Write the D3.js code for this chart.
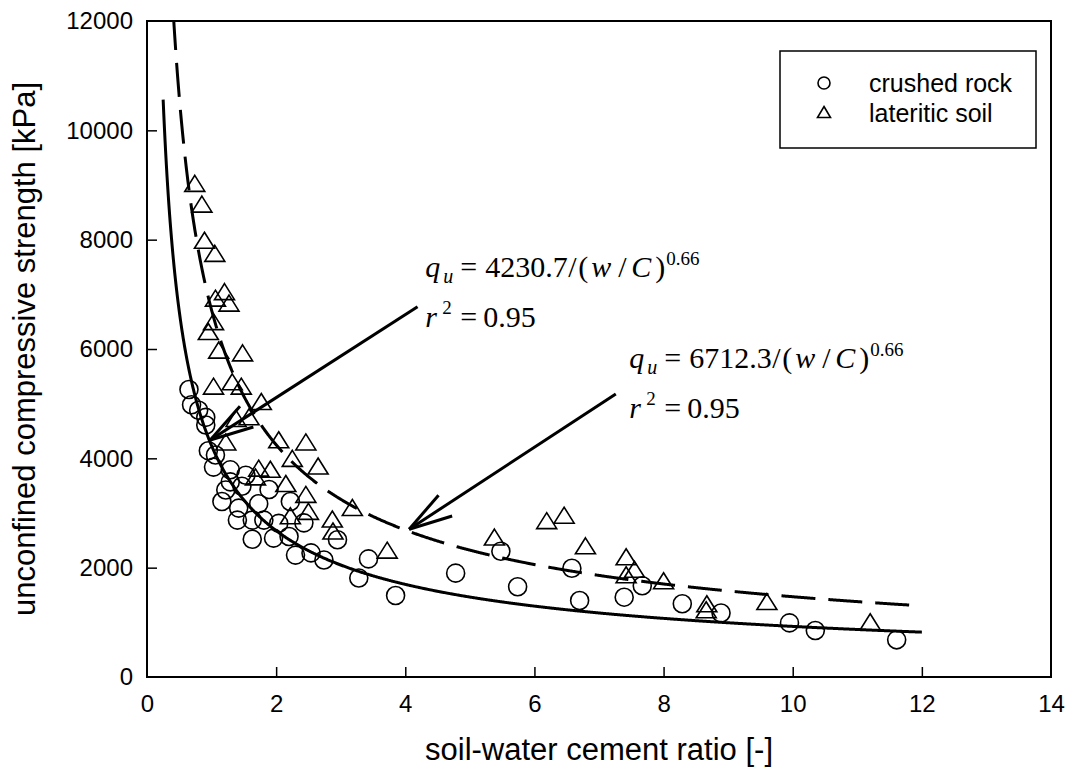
<!DOCTYPE html>
<html>
<head>
<meta charset="utf-8">
<script src="https://cdn.jsdelivr.net/npm/d3@7"></script>
<style>
  body { margin: 0; background: #fff; }
  svg { display: block; }
  .axis text { font: 24px "Liberation Sans", Arial, sans-serif; fill: #000; }
  .axis line { stroke: #000; stroke-width: 1.5px; }
  .axis path { display: none; }
  .title { font: 31px "Liberation Sans", Arial, sans-serif; fill: #000; }
  .eq { font-family: "Liberation Serif", "Times New Roman", serif; fill: #000; }
  .marker { fill: none; stroke: #000; stroke-width: 1.6px; }
</style>
</head>
<body>
<svg width="1071" height="772"></svg>
<script>
// tick values
var xTicks = [0, 2, 4, 6, 8, 10, 12, 14];
var yTicks = [0, 2000, 4000, 6000, 8000, 10000, 12000];

// crushed rock: [soil-water cement ratio, qu kPa]
var crushedRock = [
  [0.65, 5260], [0.69, 4980], [0.80, 4880], [0.91, 4750], [0.91, 4610],
  [0.95, 4140], [1.06, 4060], [1.03, 3840], [1.29, 3790], [1.53, 3690],
  [1.29, 3570], [1.22, 3420], [1.47, 3490], [1.89, 3430], [1.16, 3210],
  [1.42, 3090], [1.73, 3170], [2.22, 3210], [1.40, 2870], [1.63, 2870],
  [1.81, 2870], [2.04, 2810], [2.43, 2820], [1.63, 2520], [1.96, 2540],
  [2.20, 2570], [2.30, 2230], [2.54, 2270], [2.74, 2140], [2.95, 2510],
  [3.28, 1810], [3.43, 2160], [3.85, 1490], [4.78, 1900], [5.48, 2300],
  [5.74, 1650], [6.58, 1990], [6.70, 1400], [7.39, 1460], [7.67, 1670],
  [8.29, 1340], [8.89, 1170], [9.95, 990], [10.35, 850], [11.61, 680]
];

// lateritic soil
var lateriticSoil = [
  [0.74, 9030], [0.85, 8650], [0.89, 7990], [1.05, 7750], [1.06, 6930],
  [1.20, 7050], [1.27, 6840], [1.03, 6500], [0.95, 6320], [1.11, 5980],
  [1.48, 5930], [1.03, 5320], [1.32, 5400], [1.46, 5320], [1.77, 5040],
  [1.58, 4760], [1.38, 4730], [1.22, 4300], [2.04, 4340], [2.46, 4300],
  [2.25, 4000], [2.65, 3860], [1.73, 3820], [1.91, 3800], [2.15, 3540],
  [1.68, 3660], [2.46, 3340], [2.50, 3030], [2.22, 2950], [2.87, 2890],
  [2.88, 2670], [3.18, 3100], [3.72, 2320], [5.38, 2560], [6.19, 2860],
  [6.46, 2960], [6.79, 2400], [7.42, 2200], [7.55, 1970], [7.42, 1870],
  [8.00, 1760], [8.67, 1340], [8.66, 1230], [9.60, 1380], [11.20, 1010]
];

// fitted curves qu = a / (w/C)^b, as printed on the chart
var fitCoef = [4230.7, 6712.3];
var fitExp = 0.66;
var fitR2 = ["0.95", "0.95"];
var fitRange = [[0.25, 12], [0.41, 12]];

var svg = d3.select("svg"),
    margin = {top: 21, right: 20, bottom: 95, left: 147},
    width = svg.attr("width") - margin.left - margin.right,
    height = svg.attr("height") - margin.top - margin.bottom,
    g = svg.append("g").attr("transform", "translate(" + margin.left + "," + margin.top + ")");

var x = d3.scaleLinear().domain([0, 14]).range([0, width]),
    y = d3.scaleLinear().domain([0, 12000]).range([height, 0]);

g.append("clipPath").attr("id", "clip")
  .append("rect").attr("width", width).attr("height", height);

// Axes (ticks point inward)
g.append("g")
    .attr("class", "axis axis--x")
    .attr("transform", "translate(0," + height + ")")
    .call(d3.axisBottom(x).tickValues(xTicks).tickFormat(d3.format("d"))
      .tickSizeInner(-10).tickSizeOuter(0).tickPadding(18));

g.append("g")
    .attr("class", "axis axis--y")
    .call(d3.axisLeft(y).tickValues(yTicks).tickFormat(d3.format("d"))
      .tickSizeInner(-10).tickSizeOuter(0).tickPadding(14));

// drop the ticks that sit on the frame
g.selectAll(".axis .tick line").filter(function(d) { return d === 0 || d === 14 || d === 12000; }).remove();

// frame
g.append("rect")
    .attr("width", width)
    .attr("height", height)
    .attr("fill", "none")
    .attr("stroke", "#000")
    .attr("stroke-width", 2);

// axis titles
svg.append("text")
    .attr("class", "title")
    .attr("x", margin.left + width / 2)
    .attr("y", 760)
    .attr("text-anchor", "middle")
    .text("soil-water cement ratio [-]");

svg.append("text")
    .attr("class", "title")
    .attr("transform", "translate(35," + (margin.top + height / 2) + ") rotate(-90)")
    .attr("text-anchor", "middle")
    .text("unconfined compressive strength [kPa]");

// fit curves
var line = d3.line()
    .x(function(d) { return x(d[0]); })
    .y(function(d) { return y(d[1]); });

fitCoef.forEach(function(a, i) {
  var pts = d3.range(fitRange[i][0], fitRange[i][1] + 1e-9, 0.01).map(function(v) {
    return [v, a / Math.pow(v, fitExp)];
  });
  g.append("path")
      .attr("clip-path", "url(#clip)")
      .attr("d", line(pts))
      .attr("fill", "none")
      .attr("stroke", "#000")
      .attr("stroke-width", 3)
      .attr("stroke-dasharray", i === 1 ? "34,13" : null);
});

// markers
var triPath = function(w, h) {
  return "M0," + (-h / 2) + "L" + (w / 2) + "," + (h / 2) + "L" + (-w / 2) + "," + (h / 2) + "Z";
};

g.selectAll(".rock")
  .data(crushedRock)
  .enter().append("circle")
    .attr("class", "marker rock")
    .attr("cx", function(d) { return x(d[0]); })
    .attr("cy", function(d) { return y(d[1]); })
    .attr("r", 9);

g.selectAll(".soil")
  .data(lateriticSoil)
  .enter().append("path")
    .attr("class", "marker soil")
    .attr("d", triPath(20, 16))
    .attr("transform", function(d) { return "translate(" + x(d[0]) + "," + y(d[1]) + ")"; });

// equations and arrows (anchor in data units)
var notes = [
  {eq: [4.31, 7320], tip: [0.98, 4335], tail: [4.19, 6773]},
  {eq: [7.47, 5650], tip: [4.06, 2702], tail: [7.26, 5177]}
];

notes.forEach(function(n, i) {
  var ex = x(n.eq[0]), ey = y(n.eq[1]);
  var parts = [
    {t: "q", dx: 0, dy: 0, s: 30, it: true},
    {t: "u", dx: 18, dy: 6, s: 20, it: true},
    {t: "=", dx: 35, dy: 0, s: 30},
    {t: String(fitCoef[i]), dx: 60, dy: 0, s: 30},
    {t: "/", dx: 143, dy: 0, s: 30},
    {t: "(", dx: 153, dy: 0, s: 30},
    {t: "w", dx: 166, dy: 0, s: 30, it: true},
    {t: "/", dx: 193, dy: 0, s: 30},
    {t: "C", dx: 206, dy: 0, s: 30, it: true},
    {t: ")", dx: 230, dy: 0, s: 30},
    {t: String(fitExp), dx: 241, dy: -12, s: 19},
    {t: "r", dx: 0, dy: 50, s: 30, it: true},
    {t: "2", dx: 17, dy: 37, s: 19},
    {t: "=", dx: 35, dy: 50, s: 30},
    {t: fitR2[i], dx: 58, dy: 50, s: 30}
  ];
  svg.selectAll(null)
    .data(parts)
    .enter().append("text")
      .attr("class", "eq")
      .attr("x", function(d) { return margin.left + ex + d.dx; })
      .attr("y", function(d) { return margin.top + ey + d.dy; })
      .style("font-size", function(d) { return d.s + "px"; })
      .style("font-style", function(d) { return d.it ? "italic" : "normal"; })
      .text(function(d) { return d.t; });

  // arrow: shaft plus two barbs
  var tx = x(n.tip[0]), ty = y(n.tip[1]),
      sx = x(n.tail[0]), sy = y(n.tail[1]),
      ang = Math.atan2(sy - ty, sx - tx),
      len = 45, spread = 16 * Math.PI / 180;
  var arrow = g.append("g").attr("stroke", "#000").attr("stroke-width", 3);
  arrow.append("line").attr("x1", tx).attr("y1", ty).attr("x2", sx).attr("y2", sy);
  [-spread, spread].forEach(function(a) {
    arrow.append("line")
        .attr("x1", tx).attr("y1", ty)
        .attr("x2", tx + len * Math.cos(ang + a))
        .attr("y2", ty + len * Math.sin(ang + a));
  });
});

// legend
var legend = svg.append("g").attr("transform", "translate(780,51)");
legend.append("rect")
    .attr("width", 256).attr("height", 97)
    .attr("fill", "none").attr("stroke", "#000").attr("stroke-width", 1.5);
legend.append("circle")
    .attr("class", "marker")
    .attr("cx", 44).attr("cy", 32).attr("r", 6);
legend.append("path")
    .attr("class", "marker")
    .attr("d", triPath(13, 11))
    .attr("transform", "translate(44,61)");
legend.append("text")
    .attr("x", 89).attr("y", 41)
    .style("font", "25px 'Liberation Sans', Arial, sans-serif")
    .text("crushed rock");
legend.append("text")
    .attr("x", 89).attr("y", 71)
    .style("font", "25px 'Liberation Sans', Arial, sans-serif")
    .text("lateritic soil");
</script>
</body>
</html>
